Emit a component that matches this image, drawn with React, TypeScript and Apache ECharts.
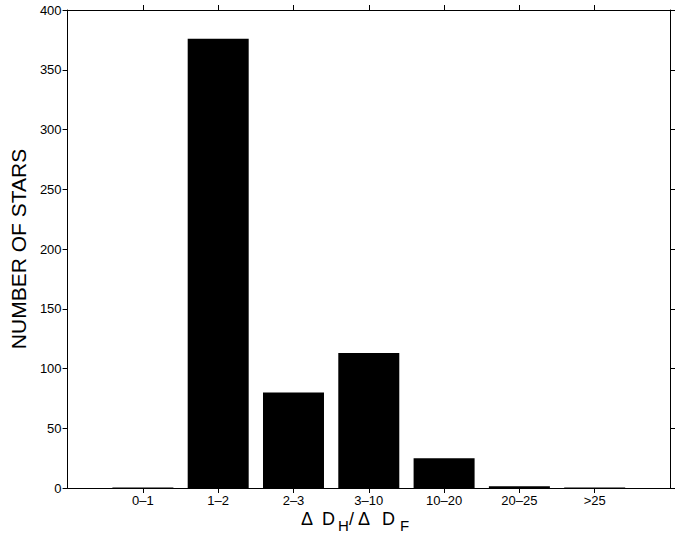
import React, { useEffect, useRef } from "react";
import * as echarts from "echarts";

// Histogram of the ratio ΔD_H / ΔD_F
const categories = ["0–1", "1–2", "2–3", "3–10", "10–20", "20–25", ">25"];
const positions = [1, 2, 3, 4, 5, 6, 7];
const counts = [0.5, 376, 80, 113, 25, 1.5, 0.5];
const yTicks = [0, 50, 100, 150, 200, 250, 300, 350, 400];

const FONT = '"Liberation Sans", Arial, Helvetica, sans-serif';

export default function App() {
  const ref = useRef<HTMLDivElement>(null);

  useEffect(() => {
    document.body.style.margin = "0";
    if (!ref.current) return;
    const chart = echarts.init(ref.current, null, { renderer: "svg" });

    const axisLine = { show: true, onZero: false, lineStyle: { color: "#000", width: 1 } };
    const tick = { show: true, length: 5, inside: false, lineStyle: { color: "#000", width: 1 } };

    const mainText = (x: number, text: string) => ({
      type: "text",
      x,
      y: 528,
      style: { text, font: `18px ${FONT}`, fill: "#000", textVerticalAlign: "bottom" },
    });
    const subText = (x: number, text: string) => ({
      type: "text",
      x,
      y: 533,
      style: { text, font: `15px ${FONT}`, fill: "#000", textVerticalAlign: "bottom" },
    });

    chart.setOption({
      animation: false,
      backgroundColor: "#fff",
      grid: { left: 63, right: 8, top: 10, bottom: 46, containLabel: false },
      xAxis: [
        {
          type: "value",
          position: "bottom",
          min: 0,
          max: 8,
          interval: 1,
          axisLine,
          axisTick: { ...tick, customValues: positions },
          axisLabel: {
            customValues: positions,
            margin: 6,
            color: "#000",
            fontSize: 13,
            fontFamily: FONT,
            formatter: (v: number) => categories[positions.indexOf(v)] ?? "",
          },
          splitLine: { show: false },
        },
        {
          type: "value",
          position: "top",
          min: 0,
          max: 8,
          interval: 1,
          axisLine,
          axisTick: { ...tick, customValues: positions },
          axisLabel: { show: false },
          splitLine: { show: false },
        },
      ],
      yAxis: [
        {
          type: "value",
          position: "left",
          min: 0,
          max: 400,
          interval: 50,
          axisLine,
          axisTick: { ...tick, customValues: yTicks },
          axisLabel: { margin: 6, color: "#000", fontSize: 13, fontFamily: FONT },
          splitLine: { show: false },
          name: "NUMBER OF STARS",
          nameLocation: "middle",
          nameGap: 30,
          nameTextStyle: { color: "#000", fontSize: 21, fontFamily: FONT },
        },
        {
          type: "value",
          position: "right",
          min: 0,
          max: 400,
          interval: 50,
          axisLine,
          axisTick: { ...tick, customValues: yTicks },
          axisLabel: { show: false },
          splitLine: { show: false },
        },
      ],
      series: [
        {
          type: "bar",
          xAxisIndex: 0,
          yAxisIndex: 0,
          barWidth: 61,
          itemStyle: { color: "#000" },
          data: positions.map((p, i) => [p, counts[i]]),
        },
      ],
      graphic: [
        mainText(301, "Δ"),
        mainText(322, "D"),
        subText(338, "H"),
        mainText(349, "/"),
        mainText(358, "Δ"),
        mainText(382, "D"),
        subText(400, "F"),
      ],
    });

    return () => chart.dispose();
  }, []);

  return <div ref={ref} style={{ width: 678, height: 534 }} />;
}
